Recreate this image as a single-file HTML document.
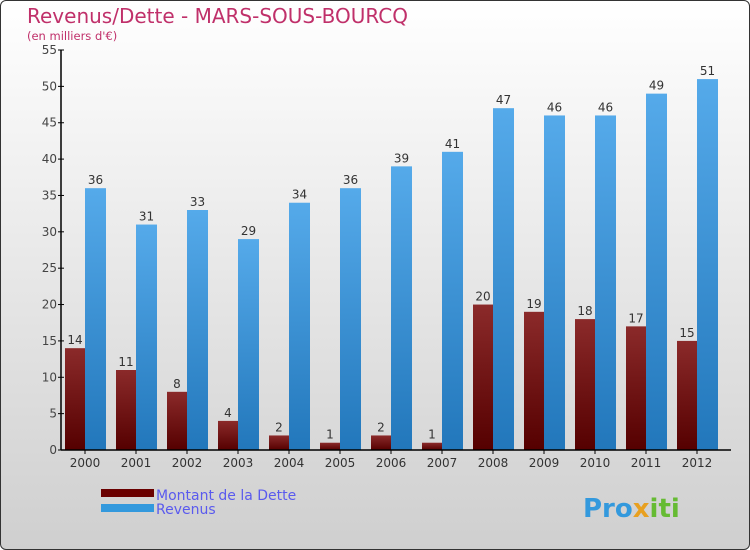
<!DOCTYPE html>
<html><head><meta charset="utf-8"><style>
body{margin:0}
#c{width:748px;height:548px;border:1px solid #333;border-radius:6px;overflow:hidden;background:linear-gradient(#ffffff,#cfcfcf);position:relative;font-family:"DejaVu Sans","Liberation Sans",sans-serif}
</style></head><body>
<div id="c">
<svg width="748" height="548" id="s">
<text x="26" y="22" font-size="20" fill="#c0306a">Revenus/Dette - MARS-SOUS-BOURCQ</text>
<text x="26" y="39" font-size="11.5" fill="#c0306a">(en milliers d'€)</text>
<g id="g"></g>
<rect x="100" y="488" width="53" height="8" fill="#6a0000"/>
<rect x="100" y="503" width="53" height="8" fill="#3399dd"/>
<text x="155" y="499" font-size="14" fill="#5a5aee">Montant de la Dette</text>
<text x="155" y="513" font-size="14" fill="#5a5aee">Revenus</text>
<text x="582" y="516" font-size="26" font-weight="bold" fill="#3399dd">Pro<tspan fill="#e8a020">x</tspan><tspan fill="#66bb33">iti</tspan></text>
</svg></div>
<script>
const years=["2000","2001","2002","2003","2004","2005","2006","2007","2008","2009","2010","2011","2012"];
const dette=[14,11,8,4,2,1,2,1,20,19,18,17,15];
const revenus=[36,31,33,29,34,36,39,41,47,46,46,49,51];
const yTicks=[0,5,10,15,20,25,30,35,40,45,50,55];
const NS="http://www.w3.org/2000/svg",g=document.getElementById('g');
const y0=449,yTop=49,yMax=55,x0=60,step=51;
const Y=v=>y0-(y0-yTop)*v/yMax, X=i=>x0+4+i*step;
function mk(t,a){const e=document.createElementNS(NS,t);for(const k in a)e.setAttribute(k,a[k]);g.appendChild(e);return e;}
const defs=mk('defs',{});
defs.innerHTML='<linearGradient id="gd" x1="0" y1="0" x2="0" y2="1"><stop offset="0" stop-color="#8b2a2a"/><stop offset="1" stop-color="#550000"/></linearGradient><linearGradient id="gr" x1="0" y1="0" x2="0" y2="1"><stop offset="0" stop-color="#55aaea"/><stop offset="1" stop-color="#2277bb"/></linearGradient>';
years.forEach((yr,i)=>{
 const xd=X(i);
 let r=mk('rect',{x:xd,y:Y(dette[i]),width:20,height:y0-Y(dette[i]),fill:'url(#gd)'});
 
 let r2=mk('rect',{x:xd+20,y:Y(revenus[i]),width:21,height:y0-Y(revenus[i]),fill:'url(#gr)'});
 
 let t=mk('text',{x:xd+10,y:Y(dette[i])-4,'font-size':12,'text-anchor':'middle',fill:'#333'});t.textContent=dette[i];
 
 let t2=mk('text',{x:xd+30.5,y:Y(revenus[i])-4,'font-size':12,'text-anchor':'middle',fill:'#333'});t2.textContent=revenus[i];
 
 let tl=mk('text',{x:xd+20,y:y0+17,'font-size':12,'text-anchor':'middle',fill:'#333'});tl.textContent=yr;
 
 mk('line',{x1:xd+20,x2:xd+20,y1:y0,y2:y0+4,stroke:'#000'});
});
yTicks.forEach(v=>{
 mk('line',{x1:x0-3,x2:x0+3,y1:Y(v),y2:Y(v),stroke:'#000'});
 let t=mk('text',{x:x0-4,y:Y(v)+4,'font-size':12,'text-anchor':'end',fill:'#444'});t.textContent=v;
 
});
let ax=mk('line',{x1:x0,x2:x0,y1:yTop,y2:y0,stroke:'#000','stroke-width':1.5});

let bx=mk('line',{x1:x0,x2:730,y1:y0,y2:y0,stroke:'#000','stroke-width':1.5});

</script></body></html>
